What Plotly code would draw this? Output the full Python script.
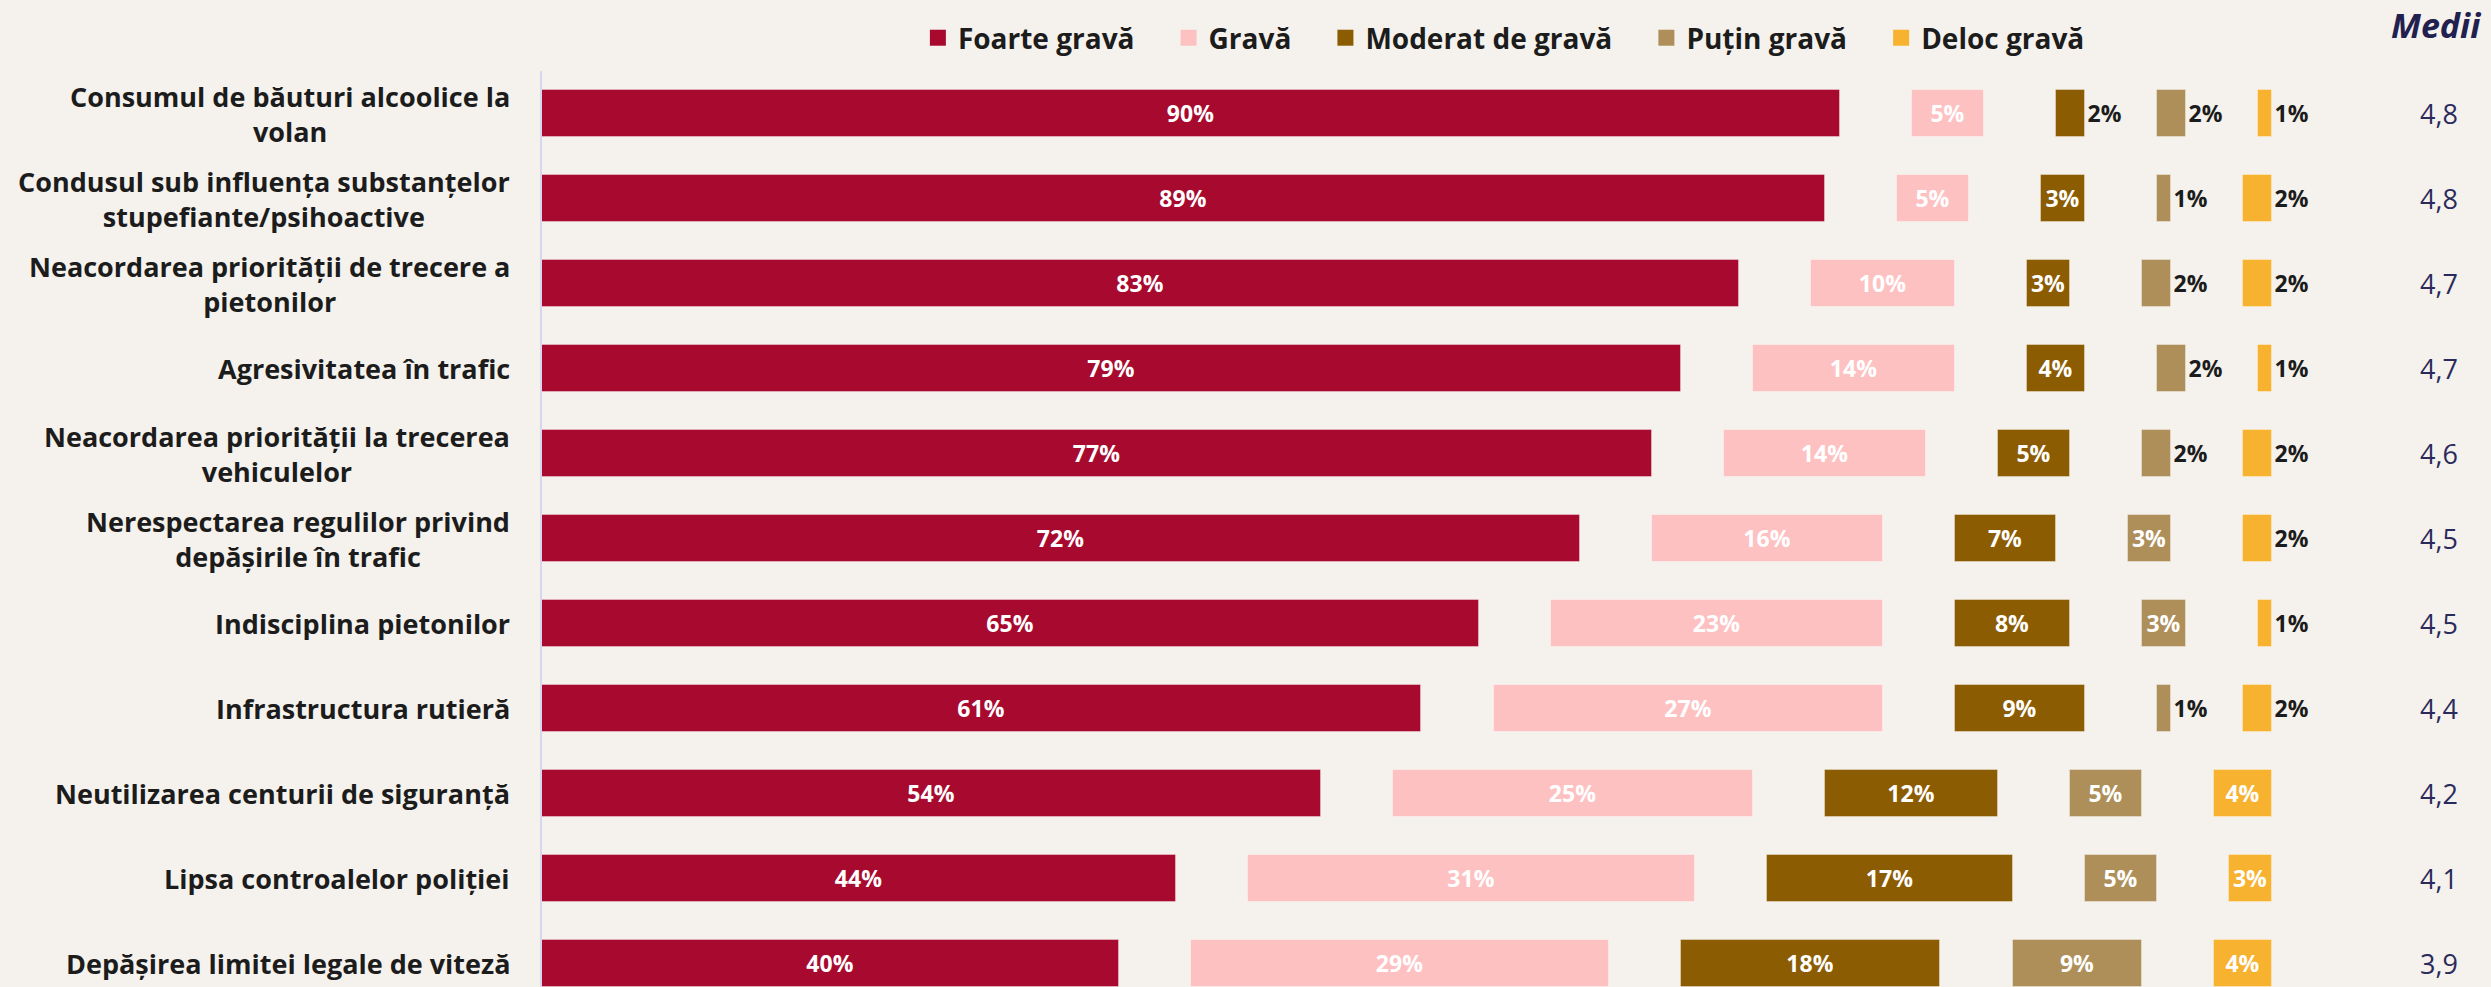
import plotly.graph_objects as go

# ---------------- data ----------------
categories = [
    "Consumul de băuturi alcoolice la<br>volan",
    "Condusul sub influența substanțelor<br>stupefiante/psihoactive",
    "Neacordarea priorității de trecere a<br>pietonilor",
    "Agresivitatea în trafic",
    "Neacordarea priorității la trecerea<br>vehiculelor",
    "Nerespectarea regulilor privind<br>depășirile în trafic",
    "Indisciplina pietonilor",
    "Infrastructura rutieră",
    "Neutilizarea centurii de siguranță",
    "Lipsa controalelor poliției",
    "Depășirea limitei legale de viteză",
]
series_names = ["Foarte gravă", "Gravă", "Moderat de gravă", "Puțin gravă", "Deloc gravă"]
foarte_grava = [90, 89, 83, 79, 77, 72, 65, 61, 54, 44, 40]
grava = [5, 5, 10, 14, 14, 16, 23, 27, 25, 31, 29]
moderat_grava = [2, 3, 3, 4, 5, 7, 8, 9, 12, 17, 18]
putin_grava = [2, 1, 2, 2, 2, 3, 3, 1, 5, 5, 9]
deloc_grava = [1, 2, 2, 1, 2, 2, 1, 2, 4, 3, 4]
medii = [4.8, 4.8, 4.7, 4.7, 4.6, 4.5, 4.5, 4.4, 4.2, 4.1, 3.9]

# ---------------- style ----------------
colors = ["#a80a2f", "#fec1c2", "#8c5c02", "#ae8f5a", "#f7b22f"]
BG = "#f5f2ed"
FONT = "Open Sans"
GAP = 5  # spacing between the segment groups, in axis units
NBSP = "\u00a0"

series = [foarte_grava, grava, moderat_grava, putin_grava, deloc_grava]

fig = go.Figure()
running = [0] * len(categories)
for k, (name, vals, col) in enumerate(zip(series_names, series, colors)):
    base = [running[i] + k * GAP for i in range(len(vals))]
    fig.add_trace(go.Bar(
        y=categories, x=vals, base=base, orientation="h",
        name=name, showlegend=False,
        marker=dict(color=col, line=dict(color="rgba(255,255,255,0.35)", width=1)),
        width=0.55,
        text=[f"{v}%" for v in vals],
        textposition=["inside" if v >= 3 else "outside" for v in vals],
        insidetextanchor="middle",
        insidetextfont=dict(family=FONT, size=23, color="white", weight="bold"),
        outsidetextfont=dict(family=FONT, size=23, color="#1c1c1c", weight="bold"),
        constraintext="none",
        cliponaxis=False,
        hoverinfo="skip",
    ))
    running = [running[i] + vals[i] for i in range(len(vals))]
    # legend entry with larger square swatch
    label = name + (NBSP * 4 if k < len(series_names) - 1 else "")
    fig.add_trace(go.Scatter(
        x=[None], y=[None], mode="markers", name=label,
        marker=dict(symbol="square", size=19, color=col),
        showlegend=True, hoverinfo="skip",
    ))

# category labels (centered multi-line, right aligned block)
for cat in categories:
    fig.add_annotation(
        x=0, xref="paper", y=cat, yref="y", text=cat,
        xanchor="right", xshift=-30, align="center", showarrow=False,
        font=dict(family=FONT, size=27, color="#1c1c1c", weight="bold"),
    )

# Medii column
fig.add_annotation(
    x=1.0948, xref="paper", y=1.050, yref="paper", text="<i>Medii</i>",
    xanchor="center", yanchor="middle", showarrow=False,
    font=dict(family=FONT, size=34, color="#22204f", weight="bold"),
)
for cat, m in zip(categories, medii):
    fig.add_annotation(
        x=1.0965, xref="paper", y=cat, yref="y",
        text=f"{m:.1f}".replace(".", ","),
        xanchor="center", showarrow=False,
        font=dict(family=FONT, size=27, color="#2b2a5c"),
    )

fig.update_layout(
    width=2491, height=987,
    margin=dict(l=542, r=219, t=71, b=0, pad=0),
    paper_bgcolor=BG, plot_bgcolor=BG,
    barmode="overlay",
    bargap=0,
    legend=dict(
        orientation="h", x=0.556, xanchor="center", y=1.036, yanchor="middle",
        font=dict(family=FONT, size=28, color="#1c1c1c", weight="bold"),
        bgcolor="rgba(0,0,0,0)", itemclick=False, itemdoubleclick=False,
        traceorder="normal",
    ),
    xaxis=dict(range=[0, 100 + 4 * GAP], visible=False, fixedrange=True),
    yaxis=dict(
        range=[10.276, -0.5], showticklabels=False, ticks="",
        showgrid=False, zeroline=False,
        showline=True, linecolor="#d8d6ee", linewidth=2, fixedrange=True,
    ),
    font=dict(family=FONT),
)

fig.write_html(
    "out.html",
    config={"displayModeBar": False},
    post_script="document.body.style.margin='0';document.body.style.background='#f5f2ed';document.body.style.overflow='hidden';",
)
